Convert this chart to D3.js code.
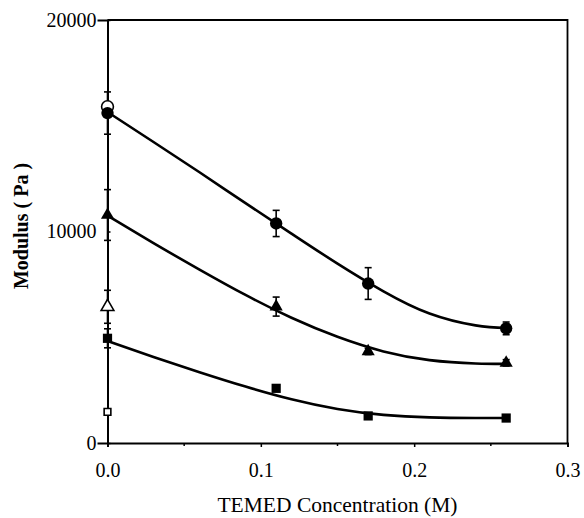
<!DOCTYPE html>
<html>
<head>
<meta charset="utf-8">
<script src="https://cdn.jsdelivr.net/npm/d3@7/dist/d3.min.js"></script>
<style>
  html, body { margin: 0; padding: 0; background: #fff; }
  svg { display: block; }
</style>
</head>
<body>
<svg id="chart" width="584" height="518"></svg>
<script>
const FONT = "'Liberation Serif', 'DejaVu Serif', 'Noto Serif', serif";

// TEMED concentration (M) at which the gels were measured
const temed = [0, 0.11, 0.17, 0.26];

// Modulus (Pa) for each gel series, with standard deviations
const circleMod  = [15600, 10380, 7540, 5420];
const circleErr  = [1000, 620, 750, 300];
const triMod     = [10780, 6450, 4330, 3790];
const triErr     = [1200, 450, 150, 150];
const squareMod  = [4950, 2585, 1280, 1180];
const squareErr  = [450, 100, 100, 100];

// Reference gels at zero TEMED (open symbols)
const openCircleMod = [15900];
const openTriMod    = [6440];
const openTriErr    = [780];
const openSquareMod = [1470];

// Smoothed trend curves, sampled along the concentration axis
const fitX         = [0, 0.03, 0.06, 0.09, 0.12, 0.15, 0.18, 0.21, 0.24, 0.26];
const circleFit    = [15650, 14230, 12800, 11340, 9900, 8480, 7170, 6120, 5560, 5440];
const triFit       = [10750, 9450, 8200, 7000, 5920, 5020, 4330, 3920, 3760, 3740];
const squareFit    = [4820, 4070, 3350, 2670, 2070, 1610, 1330, 1210, 1180, 1180];

// Axis ticks
const xTicks = [0, 0.1, 0.2, 0.3];
const xMinor = [0.05, 0.15, 0.25];
const yTicks = [0, 10000, 20000];

const svg = d3.select("#chart");
const x = d3.scaleLinear().domain([0, 0.3]).range([107.5, 567.5]);
const y = d3.scaleLinear().domain([0, 20000]).range([443, 20]);

// frame: top and right borders
svg.append("path")
  .attr("d", `M${x(0)},${y(20000)}H${x(0.3)}V${y(0)}`)
  .attr("fill", "none").attr("stroke", "#000").attr("stroke-width", 1.8);

// x axis
const xAxis = svg.append("g").attr("transform", `translate(0,${y(0)})`)
  .call(d3.axisBottom(x).tickValues(xTicks).tickFormat(d3.format(".1f")).tickSize(4));
xAxis.select(".domain").attr("stroke-width", 1.8);
xAxis.selectAll(".tick line").attr("stroke-width", 1.5);
xAxis.selectAll("text").attr("y", 34).attr("dy", 0)
  .style("font-size", "20px").style("font-family", FONT);
svg.append("g").attr("transform", `translate(0,${y(0)})`)
  .selectAll("line").data(xMinor).join("line")
  .attr("x1", d => x(d)).attr("x2", d => x(d)).attr("y1", 0).attr("y2", 3)
  .attr("stroke", "#000").attr("stroke-width", 1.5);

// y axis
const yAxis = svg.append("g").attr("transform", `translate(${x(0)},0)`)
  .call(d3.axisLeft(y).tickValues(yTicks).tickFormat(d3.format("d")).tickSize(10).tickPadding(1));
yAxis.select(".domain").attr("stroke-width", 2);
yAxis.selectAll(".tick line").attr("x2", 3).attr("stroke-width", 1.5);
yAxis.selectAll("text").attr("dy", "0.32em")
  .style("font-size", "20px").style("font-family", FONT);

// axis titles
svg.append("text")
  .attr("x", (x(0) + x(0.3)) / 2).attr("y", 512)
  .attr("text-anchor", "middle")
  .style("font-size", "21.5px").style("font-family", FONT)
  .text("TEMED Concentration (M)");
svg.append("text")
  .attr("transform", `translate(28,226) rotate(-90)`)
  .attr("text-anchor", "middle")
  .style("font-size", "20px").style("font-weight", "bold").style("font-family", FONT)
  .text("Modulus ( Pa )");

// trend curves
const line = d3.line().x((d, i) => x(fitX[i])).y(d => y(d)).curve(d3.curveNatural);
[circleFit, triFit, squareFit].forEach(s => {
  svg.append("path").attr("d", line(s))
    .attr("fill", "none").attr("stroke", "#000").attr("stroke-width", 2.6);
});

// error bars
function errorBars(xs, vals, errs) {
  const g = svg.append("g").attr("stroke", "#000").attr("stroke-width", 1.6);
  vals.forEach((v, i) => {
    if (!errs[i]) return;
    const cx = x(xs[i]), top = y(v + errs[i]), bot = y(v - errs[i]);
    g.append("line").attr("x1", cx).attr("x2", cx).attr("y1", top).attr("y2", bot);
    g.append("line").attr("x1", cx - 3.5).attr("x2", cx + 3.5).attr("y1", top).attr("y2", top);
    g.append("line").attr("x1", cx - 3.5).attr("x2", cx + 3.5).attr("y1", bot).attr("y2", bot);
  });
}
errorBars(temed, circleMod, circleErr);
errorBars(temed, triMod, triErr);
errorBars(temed, squareMod, squareErr);
errorBars([0], openTriMod, openTriErr);

// markers
function markers(xs, vals, type, size, filled) {
  svg.append("g").selectAll("path").data(vals).join("path")
    .attr("transform", (d, i) => `translate(${x(xs[i])},${y(d)})`)
    .attr("d", d3.symbol().type(type).size(size))
    .attr("fill", filled ? "#000" : "#fff")
    .attr("stroke", "#000").attr("stroke-width", filled ? 0 : 1.6);
}
markers([0], openCircleMod, d3.symbolCircle, 110, false);
markers(temed, circleMod, d3.symbolCircle, 120, true);
markers(temed, triMod, d3.symbolTriangle, 75, true);
markers([0], openTriMod, d3.symbolTriangle, 70, false);
markers(temed, squareMod, d3.symbolSquare, 85, true);
markers([0], openSquareMod, d3.symbolSquare, 45, false);
</script>
</body>
</html>
